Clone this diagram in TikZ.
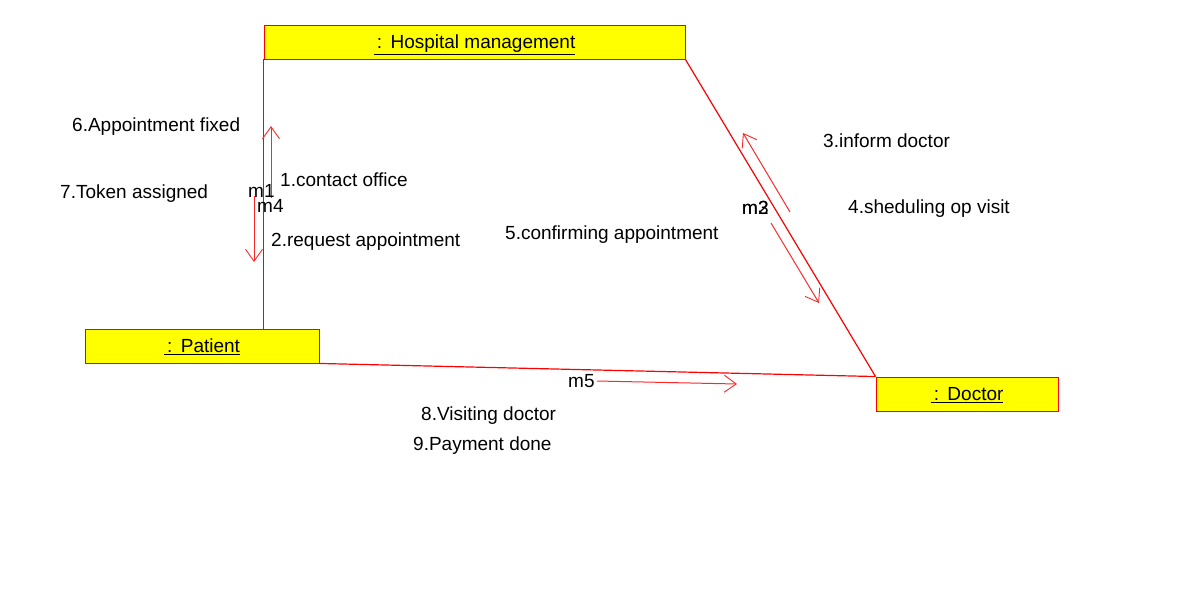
\documentclass[tikz,border=0pt]{standalone}
\usepackage{fontspec}
\setmainfont{Liberation Sans}
\usetikzlibrary{arrows.meta,positioning}
\definecolor{linkred}{RGB}{255,0,0}
\definecolor{msgred}{RGB}{255,40,40}
\definecolor{boxyellow}{RGB}{255,255,0}
\tikzstyle{object}=[draw=linkred,fill=boxyellow,line width=0.9pt,minimum height=34pt,inner sep=0pt,text height=13pt,text depth=0pt]
\tikzstyle{link}=[draw=linkred,line width=1.2pt]
\tikzstyle{msg}=[draw=msgred,line width=1pt,-{Straight Barb[length=12pt,width=17pt,line width=0.9pt]}]
\tikzstyle{msgtext}=[anchor=base west,inner sep=0pt]

\begin{document}
\begin{tikzpicture}[x=1pt,y=-1pt,font=\fontsize{19}{22}\selectfont]
    \useasboundingbox (0,0) rectangle (1197,589);
    % The objects
    \node[object,minimum width=421pt] (hosp) at (474.5,42) {\underline{\,:\;\,Hospital management}};
    \node[object,minimum width=234pt] (pat) at (202,346) {\underline{\,:\;\,Patient}};
    \node[object,minimum width=182pt] (doc) at (967,394) {\underline{\,:\;\,Doctor}};

    % Links between the objects
    \path[link] (hosp.south west) -- (hosp.south west |- pat.north);
    \path[link] (hosp.south east) -- (doc.north west);
    \path[link] (pat.south east) -- (doc.north west);

    % Message arrows
    \foreach \name/\sx/\sy/\ex/\ey in {m1/271/198/271/126, m4/254/196/254/262,
        m3/790/212/743/133, m2/771/223/819/303, m5/597/381/737/384}
    {
        \coordinate (\name-tail) at (\sx,\sy);
        \coordinate (\name-head) at (\ex,\ey);
        \path[msg] (\name-tail) -- (\name-head);
    }

    % Message names and texts (baselines)
    \foreach \pos/\name/\text in {{(248,197)}/ma/m1, {(257,212)}/mb/m4, {(742,214)}/mc/m3,
        {(742,214)}/md/m2, {(568,387)}/me/m5,
        {(72,131)}/t6/6.Appointment fixed, {(60,198)}/t7/7.Token assigned,
        {(280,186)}/t1/1.contact office, {(271,246)}/t2/2.request appointment,
        {(505,239)}/t5/5.confirming appointment, {(823,147)}/t3/3.inform doctor,
        {(848,213)}/t4/4.sheduling op visit, {(421,420)}/t8/8.Visiting doctor,
        {(413,450)}/t9/9.Payment done}
        \node[msgtext] (\name) at \pos {\text};
\end{tikzpicture}
\end{document}
